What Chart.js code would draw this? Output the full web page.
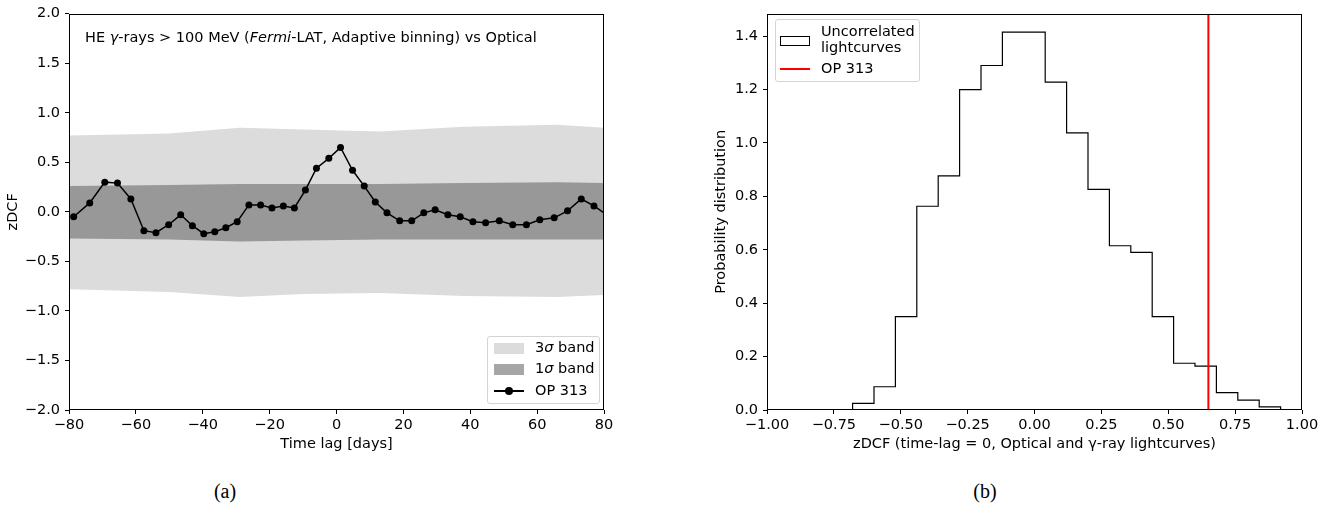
<!DOCTYPE html>
<html lang="en">
<head>
<meta charset="UTF-8">
<title>OP 313 zDCF</title>
<script src="https://cdn.jsdelivr.net/npm/chart.js"></script>
<style>
  body { margin: 0; background: #fff; width: 1337px; height: 506px; position: relative; overflow: hidden;
         font-family: 'DejaVu Sans', sans-serif; color: #000; }
  .wrap { position: absolute; top: 0; height: 470px; }
  #wrapA { left: 0; width: 640px; }
  #wrapB { left: 700px; width: 637px; }
  .legend { position: absolute; background: rgba(255,255,255,0.8); border: 1px solid #d4d4d4; border-radius: 3px;
            font-size: 14.5px; line-height: 17px; }
  .legend .sw { position: absolute; }
  .legend .tx { position: absolute; white-space: nowrap; }
  .note { position: absolute; left: 85px; top: 28px; font-size: 14.5px; line-height: 18px; white-space: nowrap; }
  .cap { position: absolute; top: 479px; font-family: 'Liberation Serif', serif; font-size: 20px; line-height: 24px;
         width: 60px; text-align: center; }
</style>
</head>
<body>
<div class="wrap" id="wrapA"><canvas id="zdcfChart" width="640" height="470"></canvas></div>
<div class="wrap" id="wrapB"><canvas id="histChart" width="637" height="470"></canvas></div>

<div class="note">HE <i>γ</i>-rays &gt; 100 MeV (<i>Fermi</i>-LAT, Adaptive binning) vs Optical</div>

<div class="legend" style="left:487px; top:336px; width:111px; height:66px;">
  <div class="sw" style="left:6px; top:6px; width:30px; height:11px; background:#dcdcdc;"></div>
  <div class="tx" style="left:47px; top:2px;">3<i>σ</i> band</div>
  <div class="sw" style="left:6px; top:27px; width:30px; height:11px; background:#a6a6a6;"></div>
  <div class="tx" style="left:47px; top:23px;">1<i>σ</i> band</div>
  <div class="sw" style="left:6px; top:53px; width:30px; height:2px; background:#000;"></div>
  <div class="sw" style="left:17px; top:50px; width:8px; height:8px; border-radius:50%; background:#000;"></div>
  <div class="tx" style="left:47px; top:45px;">OP 313</div>
</div>

<div class="legend" style="left:775px; top:19px; width:143px; height:61px;">
  <div class="sw" style="left:4px; top:16px; width:28px; height:8px; border:1px solid #000;"></div>
  <div class="tx" style="left:45px; top:3px; line-height:16px;">Uncorrelated<br>lightcurves</div>
  <div class="sw" style="left:4px; top:48px; width:30px; height:2px; background:#ff0000;"></div>
  <div class="tx" style="left:45px; top:40px;">OP 313</div>
</div>

<div class="cap" style="left:195px;">(a)</div>
<div class="cap" style="left:955px;">(b)</div>

<script>
// zDCF of OP 313, gamma-ray vs optical
const lagDays = [-78.6, -73.8, -69.3, -65.5, -61.5, -57.6, -54.0, -50.2, -46.6, -43.1,
                 -39.7, -36.4, -33.1, -29.7, -26.2, -22.7, -19.3, -15.9, -12.6, -9.3,
                 -6.0, -2.3, 1.2, 4.8, 8.3, 11.6, 15.1, 18.9, 22.5, 26.1,
                 29.5, 33.3, 37.0, 40.8, 44.6, 48.7, 52.7, 56.8, 60.8, 65.1,
                 69.1, 73.2, 77.0, 80.8];
const zdcfValues = [-0.05, 0.09, 0.30, 0.29, 0.13, -0.19, -0.21, -0.13, -0.03, -0.14,
                    -0.22, -0.20, -0.16, -0.10, 0.07, 0.07, 0.04, 0.06, 0.04, 0.22,
                    0.44, 0.54, 0.65, 0.42, 0.26, 0.10, -0.01, -0.09, -0.09, -0.01,
                    0.02, -0.03, -0.05, -0.10, -0.11, -0.09, -0.13, -0.13, -0.08, -0.06,
                    0.01, 0.13, 0.06, -0.03];

// significance bands from simulated lightcurves
const bandLag = [-80, -50, -29, -10, 13, 38, 66, 80];
const sigma3Upper = [0.77, 0.79, 0.85, 0.83, 0.81, 0.86, 0.88, 0.85];
const sigma3Lower = [-0.78, -0.81, -0.86, -0.83, -0.82, -0.85, -0.86, -0.84];
const sigma1Upper = [0.26, 0.27, 0.28, 0.28, 0.28, 0.29, 0.30, 0.29];
const sigma1Lower = [-0.27, -0.28, -0.30, -0.29, -0.28, -0.28, -0.28, -0.28];

// histogram of zDCF(lag = 0) for uncorrelated lightcurves
const binEdges = [-1.00, -0.92, -0.84, -0.76, -0.68, -0.60, -0.52, -0.44, -0.36, -0.28,
                  -0.20, -0.12, -0.04, 0.04, 0.12, 0.20, 0.28, 0.36, 0.44, 0.52,
                  0.60, 0.68, 0.76, 0.84, 0.92, 1.00];
const binHeights = [0, 0, 0, 0, 0.025, 0.087, 0.350, 0.763, 0.877, 1.200,
                    1.290, 1.415, 1.415, 1.228, 1.038, 0.826, 0.615, 0.590, 0.350, 0.175,
                    0.164, 0.065, 0.037, 0.012, 0];
const observedZdcf = 0.65;
const probMax = 1.484;

Chart.defaults.font.family = "'DejaVu Sans', sans-serif";
Chart.defaults.font.size = 14.5;
Chart.defaults.color = '#000';

const minus = s => String(s).replace('-', '\u2212');

// box around the plotting area
const frame = {
  id: 'frame',
  afterDraw(chart) {
    const { ctx, chartArea: a } = chart;
    ctx.save();
    ctx.strokeStyle = '#000';
    ctx.lineWidth = 1;
    ctx.strokeRect(Math.round(a.left) + 0.5, Math.round(a.top) + 0.5,
                   Math.round(a.right - a.left) - 1, Math.round(a.bottom - a.top) - 1);
    ctx.restore();
  }
};

function axisCommon() {
  return {
    type: 'linear',
    grid: { drawOnChartArea: false, tickLength: 4, color: '#000' },
    border: { display: false }
  };
}

const pts = (xs, ys) => xs.map((x, i) => ({ x: x, y: ys[i] }));
const band = (data, color, fill) => ({
  data: data, showLine: true, pointRadius: 0, borderWidth: 0, borderColor: 'transparent',
  backgroundColor: color, fill: fill
});

new Chart(document.getElementById('zdcfChart'), {
  type: 'scatter',
  data: {
    datasets: [
      { label: 'OP 313', data: pts(lagDays, zdcfValues), showLine: true, borderColor: '#000',
        borderWidth: 1.5, pointRadius: 3.5, pointBackgroundColor: '#000', pointBorderWidth: 0 },
      band(pts(bandLag, sigma1Upper), '#989898', '+1'),
      band(pts(bandLag, sigma1Lower), '#989898', false),
      band(pts(bandLag, sigma3Upper), '#dcdcdc', '+1'),
      band(pts(bandLag, sigma3Lower), '#dcdcdc', false)
    ]
  },
  options: {
    responsive: false, animation: false,
    layout: { padding: { top: 12, right: 36, bottom: 13, left: 0 } },
    plugins: { legend: { display: false }, tooltip: { enabled: false } },
    scales: {
      x: Object.assign(axisCommon(), {
        min: -80, max: 80,
        ticks: { color: '#000', maxRotation: 0, stepSize: 20, padding: 3, callback: v => minus(v) },
        title: { display: true, text: 'Time lag [days]', color: '#000', padding: { top: 4, bottom: 4 } },
        afterFit(s) { s.height = 47; }
      }),
      y: Object.assign(axisCommon(), {
        min: -2, max: 2,
        ticks: { color: '#000', stepSize: 0.5, padding: 5, callback: v => minus(v.toFixed(1)) },
        title: { display: true, text: 'zDCF', color: '#000', padding: { top: 5, bottom: 4 } },
        afterFit(s) { s.width = 69; }
      })
    }
  },
  plugins: [frame]
});

// step outline of the histogram
const histPts = binHeights.map((h, i) => ({ x: binEdges[i], y: h }));
histPts.push({ x: binEdges[binEdges.length - 1], y: binHeights[binHeights.length - 1] });

new Chart(document.getElementById('histChart'), {
  type: 'scatter',
  data: {
    datasets: [
      { label: 'OP 313', data: [{ x: observedZdcf, y: 0 }, { x: observedZdcf, y: probMax }],
        showLine: true, borderColor: '#ff0000', borderWidth: 2, pointRadius: 0 },
      { label: 'Uncorrelated lightcurves', data: histPts, showLine: true, stepped: 'before',
        borderColor: '#000', borderWidth: 1.2, pointRadius: 0, fill: false }
    ]
  },
  options: {
    responsive: false, animation: false,
    layout: { padding: { top: 12, right: 35, bottom: 13, left: 0 } },
    plugins: { legend: { display: false }, tooltip: { enabled: false } },
    scales: {
      x: Object.assign(axisCommon(), {
        min: -1, max: 1,
        ticks: { color: '#000', maxRotation: 0, stepSize: 0.25, padding: 3, callback: v => minus(v.toFixed(2)) },
        title: { display: true, text: 'zDCF (time-lag = 0, Optical and \u03b3-ray lightcurves)', color: '#000',
                 padding: { top: 4, bottom: 4 } },
        afterFit(s) { s.height = 47; }
      }),
      y: Object.assign(axisCommon(), {
        min: 0, max: probMax,
        ticks: { color: '#000', stepSize: 0.2, padding: 5, includeBounds: false, callback: v => v.toFixed(1) },
        title: { display: true, text: 'Probability distribution', color: '#000', padding: { top: 13, bottom: 4 } },
        afterFit(s) { s.width = 67; }
      })
    }
  },
  plugins: [frame]
});
</script>
</body>
</html>
